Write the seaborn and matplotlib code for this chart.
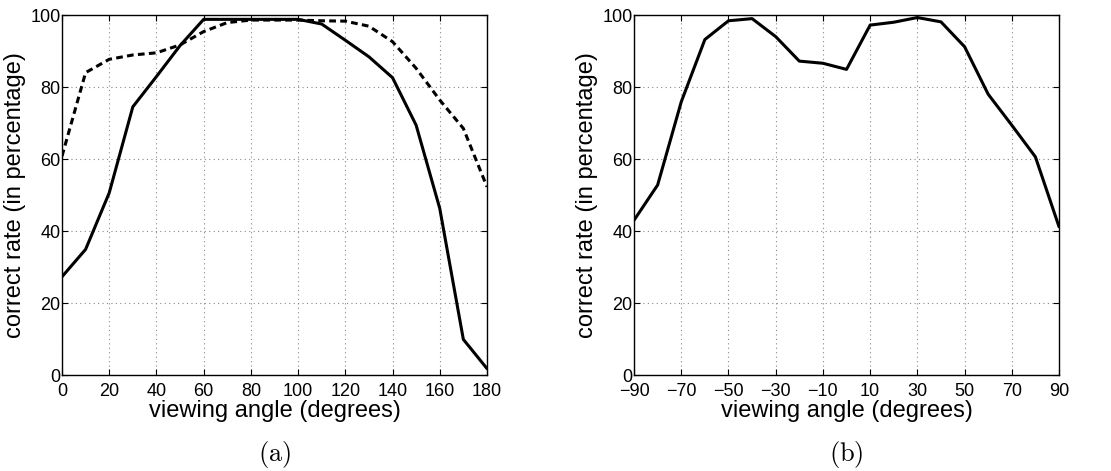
import numpy as np
import pandas as pd
import matplotlib
matplotlib.use("Agg")
import matplotlib.pyplot as plt
import seaborn as sns

# ---- data ----
angles_a = [0, 10, 20, 30, 40, 50, 60, 70, 80, 90, 100, 110, 120, 130, 140, 150, 160, 170, 180]
solid_a = [27.3, 34.9, 50.6, 74.5, 82.9, 91.5, 98.8, 98.8, 98.8, 98.8, 98.8, 97.5, 93.0, 88.4, 82.6, 69.4, 46.3, 9.9, 1.8]
dashed_a = [60.8, 84.0, 87.7, 88.9, 89.5, 91.7, 95.4, 97.9, 98.6, 98.6, 98.6, 98.4, 98.3, 96.9, 92.6, 85.2, 76.4, 68.5, 52.3]

angles_b = [-90, -80, -70, -60, -50, -40, -30, -20, -10, 0, 10, 20, 30, 40, 50, 60, 70, 80, 90]
rate_b = [43.0, 52.8, 75.9, 93.2, 98.4, 99.0, 94.0, 87.2, 86.6, 84.9, 97.2, 98.0, 99.3, 98.1, 91.2, 78.0, 69.4, 60.6, 41.2]

xticks_a = [0, 20, 40, 60, 80, 100, 120, 140, 160, 180]
xticks_b = [-90, -70, -50, -30, -10, 10, 30, 50, 70, 90]
yticks = [0, 20, 40, 60, 80, 100]
xlabel = "viewing angle (degrees)"
ylabel = "correct rate (in percentage)"
panel_labels = ["(a)", "(b)"]

sns.set_theme(style="white")
plt.rcParams['font.family'] = ['Liberation Sans', 'DejaVu Sans']
plt.rcParams['mathtext.fontset'] = 'cm'
plt.rcParams['text.color'] = 'black'
plt.rcParams['axes.labelcolor'] = 'black'

fig = plt.figure(figsize=(11.11, 4.71), dpi=100)
ax1 = fig.add_axes([0.0558, 0.2038, 0.3825, 0.7643])
ax2 = fig.add_axes([0.5707, 0.2038, 0.3825, 0.7643])

df_a = pd.concat([
    pd.DataFrame({"angle": angles_a, "rate": solid_a, "series": "solid"}),
    pd.DataFrame({"angle": angles_a, "rate": dashed_a, "series": "dashed"}),
])
sns.lineplot(data=df_a, x="angle", y="rate", style="series",
             dashes={"solid": "", "dashed": (2.2, 1.4)},
             color="black", linewidth=2.2, ax=ax1, legend=False)
sns.lineplot(x=angles_b, y=rate_b, color="black", linewidth=2.2, ax=ax2, legend=False)

for ax, xt, xl, lab in [(ax1, xticks_a, (0, 180), panel_labels[0]),
                        (ax2, xticks_b, (-90, 90), panel_labels[1])]:
    ax.set_xlim(*xl)
    ax.set_ylim(0, 100)
    ax.set_xticks(xt)
    ax.set_yticks(yticks)
    ax.set_xticklabels([str(t).replace("-", "\u2212") for t in xt], fontsize=13)
    ax.set_yticklabels([str(t) for t in yticks], fontsize=13)
    ax.grid(True, linestyle=(0, (1, 3)), color="#888888", linewidth=0.8)
    ax.tick_params(direction="in", length=4, width=0.8, top=True, right=True,
                   bottom=True, left=True, colors="black")
    ax.tick_params(axis="x", pad=6)
    ax.tick_params(axis="y", pad=1)
    for s in ax.spines.values():
        s.set_color("black")
        s.set_linewidth(1.0)
    ax.set_xlabel(xlabel, fontsize=17, labelpad=0)
    ax.set_ylabel(ylabel, fontsize=17, labelpad=3)
    pos = ax.get_position()
    fig.text(pos.x0 + pos.width / 2, 0.035, r"$(\mathrm{" + lab[1] + r"})$",
             ha="center", va="center", fontsize=19)

fig.savefig("out.png", dpi=100)
